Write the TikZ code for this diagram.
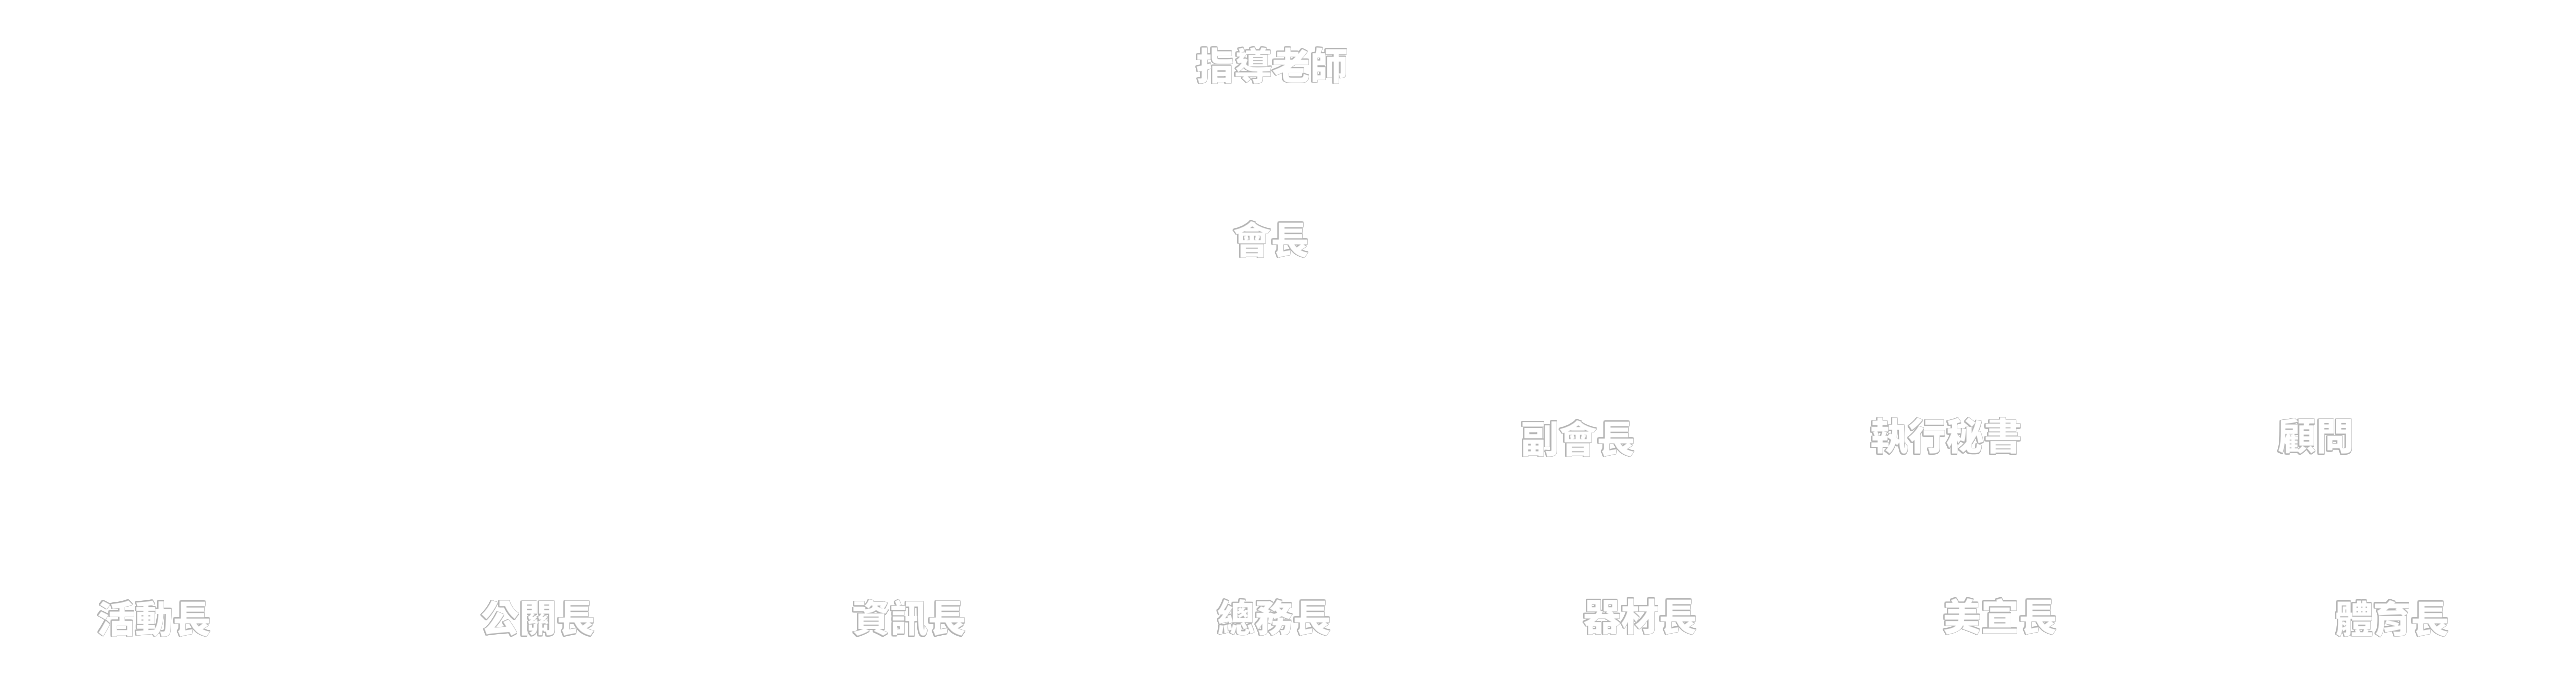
\documentclass[tikz,border=0pt]{standalone}
\usepackage{fontspec}
\usepackage[copies]{contour}
\newfontfamily\cjk{Noto Sans CJK TC}
\contourlength{0.5pt}
\contournumber{16}
\tikzset{
  x=1pt, y=-1pt,
  role/.style={inner sep=0pt, font=\cjk\bfseries\fontsize{38}{40}\selectfont, text=white}
}
\newcommand{\rolet}[1]{\contour{black!30}{#1}}
\begin{document}
\begin{tikzpicture}
\useasboundingbox[fill=white] (0,0) rectangle (2564,696);
\node[role] (advisor) at (1272,66) {\rolet{指導老師}};
\node[role] (pres) at (1271,240) {\rolet{會長}};
\node[role] (vp) at (1578,439) {\rolet{副會長}};
\node[role] (sec) at (1946,437) {\rolet{執行秘書}};
\node[role] (cons) at (2316,437) {\rolet{顧問}};
\node[role] (act) at (154,619) {\rolet{活動長}};
\node[role] (pr) at (538,619) {\rolet{公關長}};
\node[role] (info) at (909,619) {\rolet{資訊長}};
\node[role] (gen) at (1274,618) {\rolet{總務長}};
\node[role] (equip) at (1640,617) {\rolet{器材長}};
\node[role] (art) at (2000,617) {\rolet{美宣長}};
\node[role] (pe) at (2392,619) {\rolet{體育長}};
\end{tikzpicture}
\end{document}
